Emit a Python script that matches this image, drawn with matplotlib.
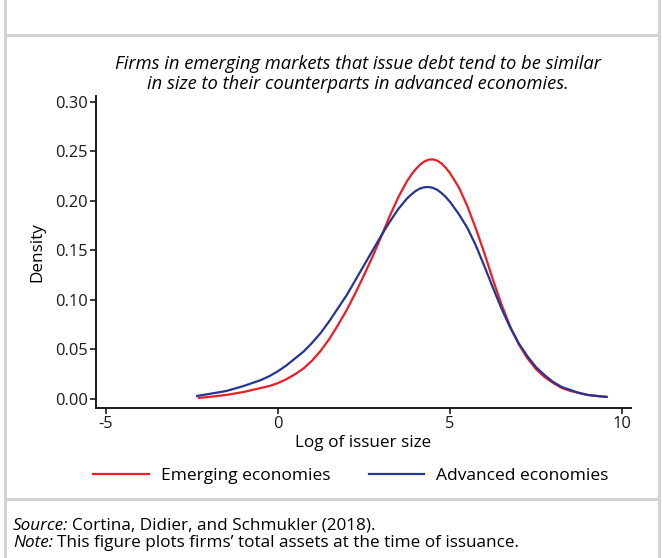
import matplotlib
matplotlib.use("Agg")
import matplotlib.pyplot as plt
from matplotlib.lines import Line2D

# ---- data ----
adv_x = [-2.35, -2.0, -1.5, -1.0, -0.5, -0.25, 0.0, 0.25, 0.5, 0.75, 1.0, 1.25, 1.5,
         1.75, 2.0, 2.25, 2.5, 2.75, 3.0, 3.25, 3.5, 3.75, 3.875, 4.0, 4.125, 4.25,
         4.375, 4.5, 4.625, 4.75, 4.875, 5.0, 5.25, 5.5, 5.75, 6.0, 6.25, 6.5, 6.75,
         7.0, 7.25, 7.5, 7.75, 8.0, 8.25, 8.5, 8.75, 9.0, 9.25, 9.55]
adv_y = [0.003, 0.005, 0.008, 0.013, 0.019, 0.023, 0.028, 0.034, 0.041, 0.048, 0.057,
         0.067, 0.079, 0.092, 0.105, 0.120, 0.135, 0.150, 0.165, 0.179, 0.192, 0.2025,
         0.2065, 0.2100, 0.2125, 0.2138, 0.2141, 0.2132, 0.2113, 0.2080, 0.2040, 0.1990,
         0.187, 0.173, 0.155, 0.134, 0.112, 0.091, 0.072, 0.056, 0.043, 0.032, 0.024,
         0.017, 0.012, 0.009, 0.006, 0.004, 0.003, 0.002]
emg_x = [-2.3, -2.0, -1.5, -1.0, -0.5, -0.25, 0.0, 0.25, 0.5, 0.75, 1.0, 1.25, 1.5,
         1.75, 2.0, 2.25, 2.5, 2.75, 3.0, 3.25, 3.5, 3.75, 3.875, 4.0, 4.125, 4.25,
         4.375, 4.5, 4.625, 4.75, 4.875, 5.0, 5.25, 5.5, 5.75, 6.0, 6.25, 6.5, 6.75,
         7.0, 7.25, 7.5, 7.75, 8.0, 8.25, 8.5, 8.75, 9.0, 9.25, 9.55]
emg_y = [0.001, 0.002, 0.004, 0.007, 0.011, 0.013, 0.016, 0.020, 0.025, 0.031, 0.039,
         0.049, 0.061, 0.075, 0.090, 0.107, 0.125, 0.144, 0.164, 0.185, 0.204, 0.2200,
         0.2265, 0.2320, 0.2365, 0.2398, 0.2417, 0.2420, 0.2407, 0.2378, 0.2335, 0.2280,
         0.214, 0.195, 0.172, 0.147, 0.120, 0.095, 0.073, 0.055, 0.041, 0.030, 0.022,
         0.016, 0.011, 0.008, 0.006, 0.004, 0.003, 0.002]
series_names = ["Emerging economies", "Advanced economies"]
x_ticks = [-5, 0, 5, 10]
y_ticks = [0.00, 0.05, 0.10, 0.15, 0.20, 0.25, 0.30]

title = ("Firms in emerging markets that issue debt tend to be similar\n"
         "in size to their counterparts in advanced economies.")
source_lbl, source_txt = "Source:", "Cortina, Didier, and Schmukler (2018)."
note_lbl, note_txt = "Note:", "This figure plots firms\u2019 total assets at the time of issuance."

RED = "#ee1c25"
BLUE = "#26358f"
GRAY = "#d3d3d3"

plt.rcParams["font.family"] = ["Open Sans", "DejaVu Sans"]

W, H = 662, 558
fig = plt.figure(figsize=(W / 100, H / 100), dpi=100)


def fx(px):
    return px / W


def fy(py):
    return 1 - py / H


# panel borders
for (x0, y0, x1, y1) in [(5, 0, 5, H), (659, 0, 659, H), (5, 35, 659, 35), (5, 499, 659, 499)]:
    fig.add_artist(Line2D([fx(x0), fx(x1)], [fy(y0), fy(y1)], color=GRAY, lw=2.2))

ax = fig.add_axes([fx(96), fy(408), fx(631) - fx(96), fy(96) - fy(408)])
l1, = ax.plot(emg_x, emg_y, color=RED, lw=1.6, solid_joinstyle="round")
l2, = ax.plot(adv_x, adv_y, color=BLUE, lw=1.6, solid_joinstyle="round")
ax.set_xlim(-5.29, 10.26)
ax.set_ylim(-0.0092, 0.306)
ax.set_xticks(x_ticks)
ax.set_xticklabels([str(t) for t in x_ticks])
ax.set_yticks(y_ticks)
ax.set_yticklabels([f"{t:.2f}" for t in y_ticks])
for s in ["top", "right"]:
    ax.spines[s].set_visible(False)
for s in ["left", "bottom"]:
    ax.spines[s].set_linewidth(1.4)
    ax.spines[s].set_color("#1a1a1a")
ax.tick_params(direction="out", length=4, width=1.2, labelsize=11.8, pad=2, colors="#1a1a1a")
ax.set_xlabel("Log of issuer size", fontsize=12.3, labelpad=2)
ax.set_ylabel("Density", fontsize=12.3, labelpad=7)

fig.text(fx(358), fy(74), title, ha="center", va="center", fontsize=13.2,
         style="italic", linespacing=1.2)

fig.legend([l1, l2], series_names, loc="center", bbox_to_anchor=(fx(351), fy(476)),
           ncol=2, frameon=False, fontsize=12.5, handlelength=3.2, columnspacing=2.2,
           handletextpad=0.7)

r = fig.canvas.get_renderer()


def label_pair(y, ital, rest):
    t = fig.text(fx(13), fy(y), ital, fontsize=12.3, style="italic", va="center", ha="left")
    bb = t.get_window_extent(renderer=r)
    fig.text(bb.x1 / W + fx(4), fy(y), rest, fontsize=12.3, va="center", ha="left")


label_pair(526, source_lbl, source_txt)
label_pair(543, note_lbl, note_txt)

fig.savefig("out.png", dpi=100)
